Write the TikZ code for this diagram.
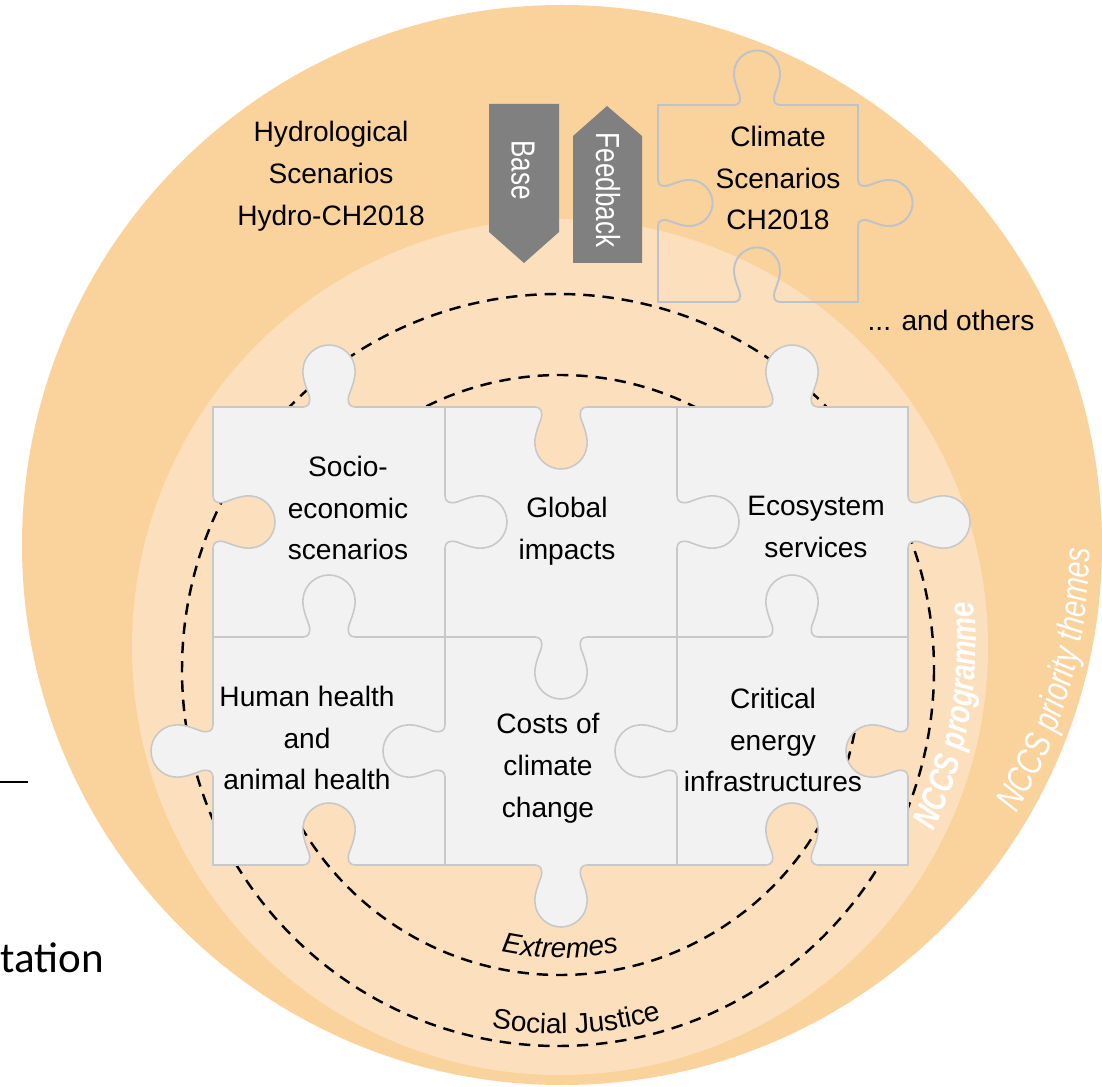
\documentclass[tikz,border=0pt]{standalone}
\usepackage{fontspec}
\setmainfont{Liberation Sans}
\newfontfamily\narrowsans[FakeStretch=0.78]{Liberation Sans}
\newfontfamily\slidefont{Carlito}
\usetikzlibrary{decorations.text}

\definecolor{outerring}{RGB}{250,210,156}
\definecolor{innerring}{RGB}{252,224,189}
\definecolor{piecegray}{RGB}{242,242,242}
\definecolor{pieceedge}{RGB}{200,200,200}
\definecolor{climateedge}{RGB}{190,195,202}
\definecolor{arrowgray}{RGB}{128,128,128}

\newcommand{\knob}{-- (-32,0) -- (-26,0) .. controls (-20,0) and (-18,5) .. (-20,12) .. controls (-23,20) and (-27,30) .. (-26,38) .. controls (-25,52) and (-13,62) .. (0,62) .. controls (13,62) and (25,52) .. (26,38) .. controls (27,30) and (23,20) .. (20,12) .. controls (18,5) and (20,0) .. (26,0) -- (32,0)}

\begin{document}
\begin{tikzpicture}[x=0.02cm, y=-0.02cm,
  txt/.style={align=center, font=\fontsize{16}{23.8}\selectfont},
  piece/.style={fill=piecegray, draw=pieceedge, line width=0.9pt},
  seam/.style={draw=pieceedge, line width=0.9pt},
  climatepiece/.style={draw=climateedge, line width=1.1pt},
  ring/.style={draw=black, line width=1.4pt, dash pattern=on 6.5pt off 4.5pt},
  pointer/.style={fill=arrowgray},
  vtxt/.style={rotate=-90, text=white, font=\narrowsans\fontsize{19}{19}\selectfont}]
\useasboundingbox (0,0) rectangle (1102,1087);
\fill[outerring] (562,545) circle[radius=540];
\fill[innerring] (560,647) circle[radius=428];
\draw[ring] (558,670) circle[radius=376];
\draw[ring] (560,675) circle[radius=300];
\path[decorate, decoration={text along path, text align=center, text={|\fontsize{16}{16}\selectfont\itshape|Extremes}}] (560,675) ++(110:283) arc[start angle=110, end angle=70, radius=283];
\path[decorate, decoration={text along path, text align=center, text={|\fontsize{16}{16}\selectfont|Social Justice}}] (558,670) ++(105:364) arc[start angle=105, end angle=69, radius=364];
\path[decorate, decoration={text along path, text align=center, text color=white, text={|\narrowsans\fontsize{20}{20}\selectfont\bfseries\itshape|NCCS programme}}] (560,647) ++(29:416) arc[start angle=29, end angle=-9, radius=416];
\path[decorate, decoration={text along path, text align=center, text color=white, text={|\narrowsans\fontsize{21}{21}\selectfont\itshape|NCCS priority themes}}] (562,545) ++(34:528) arc[start angle=34, end angle=-3, radius=528];

\path[piece] (213,407)
  {[shift={(329,407)},yscale=-1] \knob}
  {[shift={(561,407)}] \knob}
  {[shift={(792,407)},yscale=-1] \knob} -- (908,407)
  {[shift={(908,522)},rotate=-90,yscale=-1] \knob}
  {[shift={(908,751)},rotate=-90] \knob} -- (908,865)
  {[shift={(792,865)},rotate=180] \knob}
  {[shift={(561,865)},rotate=180,yscale=-1] \knob}
  {[shift={(329,865)},rotate=180] \knob} -- (213,865)
  {[shift={(213,751)},rotate=90,yscale=-1] \knob}
  {[shift={(213,522)},rotate=90] \knob} -- cycle;
\draw[seam] (445,407) {[shift={(445,522)},rotate=-90,yscale=-1] \knob} {[shift={(445,751)},rotate=-90] \knob} -- (445,865);
\draw[seam] (677,407) {[shift={(677,522)},rotate=-90,yscale=-1] \knob} {[shift={(677,751)},rotate=-90] \knob} -- (677,865);
\draw[seam] (213,637) {[shift={(329,637)},yscale=-1] \knob} {[shift={(561,637)}] \knob} {[shift={(792,637)},yscale=-1] \knob} -- (908,637);

\node[txt] (socio) at (348,508) {Socio-\\economic\\scenarios};
\node[txt] (global) at (567,531) {Global\\impacts};
\node[txt] (ecosystem) at (816,527) {Ecosystem\\services};
\node[txt] (health) at (307,738) {Human health\\and\\animal health};
\node[txt] (costs) at (548,768) {Costs of\\climate\\change};
\node[txt] (energy) at (773,740) {Critical\\energy\\infrastructures};

\draw[climatepiece] (658,105)
  {[shift={(757,105)},yscale=-1,scale=0.88] \knob} -- (858,105)
  {[shift={(858,203)},rotate=-90,yscale=-1,scale=0.88] \knob} -- (858,302)
  {[shift={(757,302)},rotate=180,scale=0.88] \knob} -- (658,302)
  {[shift={(658,203)},rotate=90,scale=0.88] \knob} -- cycle;
\node[txt] (climate) at (778,178) {Climate\\Scenarios\\CH2018};
\node[txt] (hydro) at (331,176) {Hydrological\\Scenarios\\Hydro-CH2018};
\node[txt] (others) at (951,320) {... and others};

\fill[pointer] (489,104) -- (559,104) -- (559,232) -- (524,263) -- (489,232) -- cycle;
\fill[pointer] (573,263) -- (642,263) -- (642,136) -- (607,106) -- (573,136) -- cycle;
\node[vtxt] (base) at (523,170) {Base};
\node[vtxt] (feedback) at (608,190) {Feedback};

\draw[line width=0.8pt] (0,782) -- (28,782);
\node[anchor=base west, inner sep=0pt, font=\slidefont\fontsize{24.5}{24.5}\selectfont] (tation) at (0,972) {tation};
\end{tikzpicture}
\end{document}
